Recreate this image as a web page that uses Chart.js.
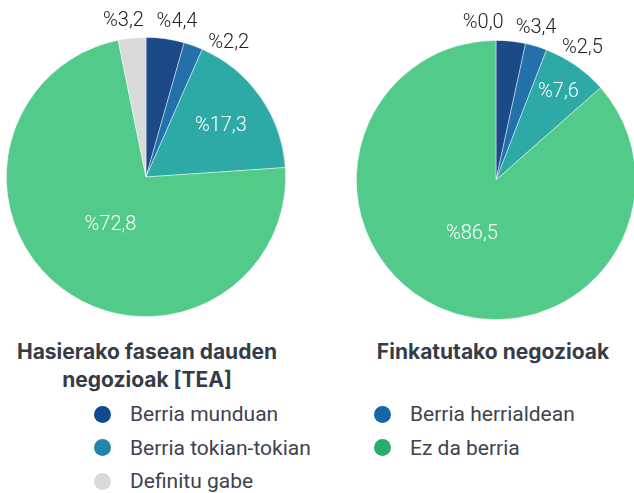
<!DOCTYPE html>
<html>
<head>
<meta charset="utf-8">
<script src="https://cdn.jsdelivr.net/npm/chart.js@4"></script>
<style>
  html, body { margin: 0; padding: 0; background: #fff; }
  #wrap { position: relative; width: 634px; height: 493px; overflow: hidden; }
  canvas { position: absolute; top: 0; }
  #pieLeft { left: 0; }
  #pieRight { left: 317px; }
  .title {
    position: absolute; top: 338px; text-align: center;
    font: 700 21px Inter, sans-serif; line-height: 28px; color: #363c47;
  }
  #legend { position: absolute; left: 0; top: 397px; width: 634px; }
  .item {
    position: absolute; height: 34px; display: flex; align-items: center;
    font: 400 21px Roboto, sans-serif; color: #3d4350; white-space: nowrap;
  }
  .dot { width: 17px; height: 17px; border-radius: 50%; margin-right: 19px; }
</style>
</head>
<body>
<div id="wrap">
  <canvas id="pieLeft" width="317" height="330"></canvas>
  <canvas id="pieRight" width="340" height="330"></canvas>
  <div class="title" style="left:0;width:294px">Hasierako fasean dauden<br>negozioak [TEA]</div>
  <div class="title" style="left:343px;width:300px">Finkatutako negozioak</div>
  <div id="legend"></div>
</div>
<script>
/* ── Data ───────────────────────────────────────────────────────────────── */
const categories = ['Berria munduan', 'Berria herrialdean', 'Berria tokian-tokian', 'Ez da berria', 'Definitu gabe'];
const teaValues = [4.4, 2.2, 17.3, 72.8, 3.2];
const establishedValues = [3.4, 2.5, 7.6, 86.5, 0.0];
const sliceColors = ['#1c4a87', '#2370ab', '#2eaaa6', '#52cb8a', '#d9dbda'];
const legendColors = ['#0f4a8a', '#1466a9', '#2286aa', '#28ad6c', '#d9dbda'];

const fmt = v => '%' + v.toFixed(1).replace('.', ',');

/* ── Percent labels (inside for big slices, outside for small ones) ─────── */
const pctLabels = {
  id: 'pctLabels',
  afterDatasetsDraw(chart) {
    const ctx = chart.ctx;
    const values = chart.data.datasets[0].data;
    const total = values.reduce((a, b) => a + b, 0);
    const meta = chart.getDatasetMeta(0);
    ctx.save();
    ctx.font = '300 20px Roboto, sans-serif';
    ctx.textAlign = 'center';
    ctx.textBaseline = 'middle';

    const outside = [];
    meta.data.forEach((arc, i) => {
      const { x, y, startAngle, endAngle, outerRadius } =
        arc.getProps(['x', 'y', 'startAngle', 'endAngle', 'outerRadius'], true);
      const mid = (startAngle + endAngle) / 2;
      const frac = values[i] / total;
      const text = fmt(values[i]);
      if (frac < 0.05) {
        let a = mid + Math.PI / 2;                 // clockwise from top
        a = Math.atan2(Math.sin(a), Math.cos(a));
        outside.push({ text, a, cx: x, cy: y, d: outerRadius + 19, w: ctx.measureText(text).width });
      } else {
        const d = outerRadius * Math.max(0.42, 0.88 - 1.3 * frac);
        ctx.fillStyle = '#ffffff';
        ctx.fillText(text, x + Math.cos(mid) * d, y + Math.sin(mid) * d + 1);
      }
    });

    // spread outside labels along the circle until they stop overlapping
    outside.sort((p, q) => p.a - q.a);
    const pos = p => ({ x: p.cx + Math.sin(p.a) * p.d, y: p.cy - Math.cos(p.a) * p.d });
    const clash = (p, q) => {
      const A = pos(p), B = pos(q);
      return Math.abs(A.x - B.x) < (p.w + q.w) / 2 + 12 && Math.abs(A.y - B.y) < 20;
    };
    for (let it = 0; it < 800; it++) {
      let moved = false;
      for (let k = 0; k < outside.length - 1; k++) {
        if (clash(outside[k], outside[k + 1])) {
          outside[k].a -= 0.0015;
          outside[k + 1].a += 0.0045;
          moved = true;
        }
      }
      if (!moved) break;
    }
    ctx.fillStyle = '#222222';
    outside.forEach(p => { const P = pos(p); ctx.fillText(p.text, P.x, P.y + 1); });
    ctx.restore();
  }
};

function makePie(id, values, padding) {
  return new Chart(document.getElementById(id), {
    type: 'pie',
    data: {
      labels: categories,
      datasets: [{
        data: values,
        backgroundColor: sliceColors,
        borderColor: 'rgba(255,255,255,0.55)',
        borderWidth: 0.8,
      }],
    },
    options: {
      responsive: false,
      animation: false,
      events: [],
      layout: { padding },
      plugins: { legend: { display: false }, tooltip: { enabled: false } },
    },
    plugins: [pctLabels],
  });
}

makePie('pieLeft', teaValues, { left: 6, right: 31, top: 37, bottom: 13 });
makePie('pieRight', establishedValues, { left: 39, right: 21, top: 40, bottom: 10 });

/* ── Shared legend ─────────────────────────────────────────────────────── */
const legendEl = document.getElementById('legend');
const colX = [94, 374];
categories.forEach((name, i) => {
  const item = document.createElement('div');
  item.className = 'item';
  item.style.left = colX[i % 2] + 'px';
  item.style.top = (Math.floor(i / 2) * 33.5) + 'px';
  item.innerHTML = `<span class="dot" style="background:${legendColors[i]}"></span>${name}`;
  legendEl.appendChild(item);
});
</script>
</body>
</html>
